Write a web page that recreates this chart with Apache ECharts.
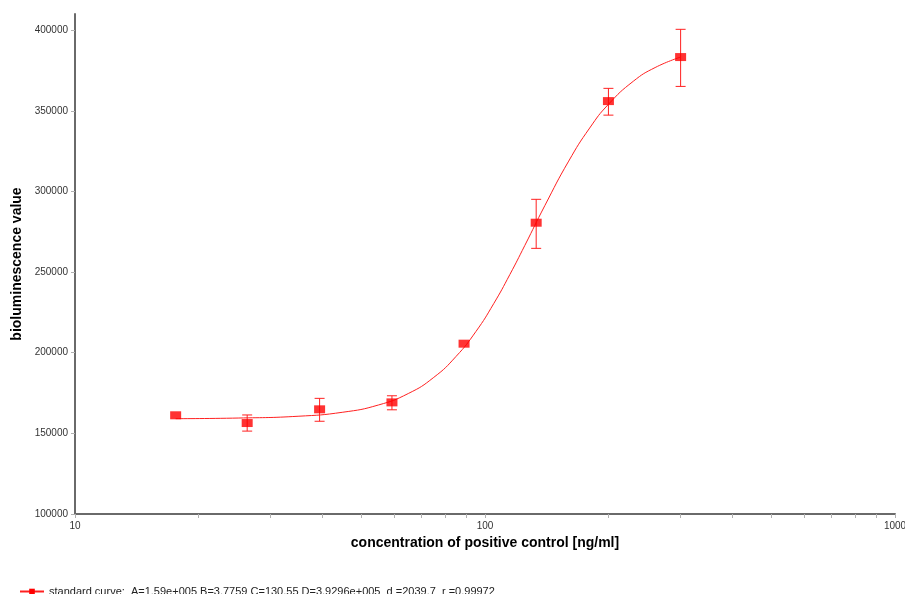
<!DOCTYPE html>
<html>
<head>
<meta charset="utf-8">
<script src="https://cdn.jsdelivr.net/npm/echarts@6/dist/echarts.min.js"></script>
<style>html,body{margin:0;padding:0;background:#fff;}#chart{width:905px;height:594px;}</style>
</head>
<body>
<div id="chart"></div>
<script>
// Measured points
const concentrations = [17.6, 26.3, 39.5, 59.3, 88.9, 133.3, 200, 300];
const meanValues = [161200, 156400, 164900, 169200, 205600, 280600, 356000, 383300];
const errLow = [161200, 151400, 157500, 164600, 205600, 264700, 347300, 365100];
const errHigh = [161200, 161400, 171700, 173300, 205600, 295100, 363900, 400500];
// Fitted standard curve
const curveX = [17.6, 25, 35, 45, 55, 65, 75, 85, 95, 105, 115, 125, 140, 160, 180, 200, 230, 260, 300];
const curveY = [159100, 159500, 160600, 163100, 167600, 174700, 184700, 197700, 213100, 230400, 248500, 266400, 291300, 318800, 339300, 354000, 368300, 376800, 383300];
// Axis ticks
const xLabelValues = [10, 100, 1000];
const xTickValues = [10, 20, 30, 40, 50, 60, 70, 80, 90, 100, 200, 300, 400, 500, 600, 700, 800, 900, 1000];
const yTickValues = [100000, 150000, 200000, 250000, 300000, 350000, 400000];
const legendText = 'standard curve:  A=1.59e+005 B=3.7759 C=130.55 D=3.9296e+005  d =2039.7  r =0.99972';

const chart = echarts.init(document.getElementById('chart'));
const FONT = '"Liberation Sans", Arial, sans-serif';
chart.setOption({
  animation: false,
  textStyle: {fontFamily: FONT},
  grid: {left: 75, right: 10, top: 14, bottom: 80, outerBoundsMode: 'none', containLabel: false},
  legend: {
    data: [legendText],
    left: 14, top: 581,
    itemWidth: 24, itemHeight: 7,
    textStyle: {fontSize: 11, color: '#222', fontFamily: FONT}
  },
  xAxis: {
    type: 'log', logBase: 10, min: 10, max: 1000,
    name: 'concentration of positive control [ng/ml]',
    nameLocation: 'middle', nameGap: 22,
    nameTextStyle: {fontSize: 14, fontWeight: 'bold', color: '#000', fontFamily: FONT},
    axisLine: {lineStyle: {color: '#6a6a6a', width: 2}},
    axisTick: {show: true, length: 4, lineStyle: {color: '#b0b0b0'}, customValues: xTickValues},
    axisLabel: {fontSize: 10, color: '#333', margin: 7, customValues: xLabelValues, formatter: v => String(Math.round(v))},
    splitLine: {show: false}, minorTick: {show: false}
  },
  yAxis: {
    type: 'value', min: 100000, max: 410000,
    name: 'bioluminescence value',
    nameLocation: 'middle', nameGap: 48,
    nameTextStyle: {fontSize: 14, fontWeight: 'bold', color: '#000', fontFamily: FONT},
    axisLine: {show: true, lineStyle: {color: '#6a6a6a', width: 2}},
    axisTick: {show: true, length: 4, lineStyle: {color: '#b0b0b0'}, customValues: yTickValues},
    axisLabel: {fontSize: 10, color: '#333', margin: 7, customValues: yTickValues, formatter: v => String(Math.round(v))},
    splitLine: {show: false}
  },
  series: [
    {
      name: legendText,
      type: 'line',
      data: curveX.map((x, i) => [x, curveY[i]]),
      smooth: true,
      showSymbol: false,
      symbol: 'rect', symbolSize: [8, 6],
      itemStyle: {color: '#ff0000'},
      lineStyle: {color: '#ff2020', width: 1},
      z: 2
    },
    {
      name: 'errors',
      type: 'custom',
      data: concentrations.map((x, i) => [x, errLow[i], errHigh[i]]),
      renderItem: function (params, api) {
        const x = api.value(0);
        const lo = api.coord([x, api.value(1)]);
        const hi = api.coord([x, api.value(2)]);
        if (Math.abs(hi[1] - lo[1]) < 1) return null;
        const w = 5;
        const st = {stroke: '#ff2020', lineWidth: 1};
        return {
          type: 'group',
          children: [
            {type: 'line', shape: {x1: lo[0], y1: hi[1], x2: lo[0], y2: lo[1]}, style: st},
            {type: 'line', shape: {x1: lo[0] - w, y1: hi[1], x2: lo[0] + w, y2: hi[1]}, style: st},
            {type: 'line', shape: {x1: lo[0] - w, y1: lo[1], x2: lo[0] + w, y2: lo[1]}, style: st}
          ]
        };
      },
      z: 3
    },
    {
      name: 'points',
      type: 'scatter',
      data: concentrations.map((x, i) => [x, meanValues[i]]),
      symbol: 'rect', symbolSize: [11, 8],
      itemStyle: {color: '#ff0000'},
      z: 4
    }
  ]
});
</script>
</body>
</html>
